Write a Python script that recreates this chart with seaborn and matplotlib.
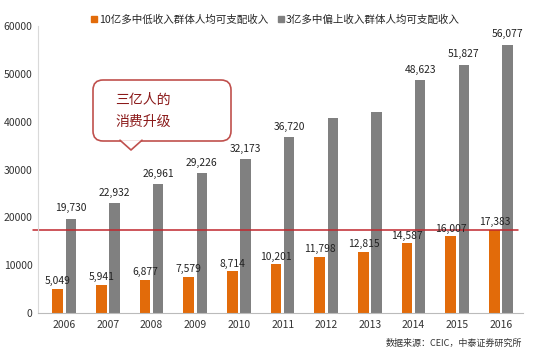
import matplotlib
matplotlib.use("Agg")
import matplotlib.pyplot as plt
import pandas as pd
import seaborn as sns
from matplotlib.patches import FancyBboxPatch, Polygon
from matplotlib.lines import Line2D

# data
years = ["2006", "2007", "2008", "2009", "2010", "2011", "2012", "2013", "2014", "2015", "2016"]
low_income = [5049, 5941, 6877, 7579, 8714, 10201, 11798, 12815, 14587, 16007, 17383]
high_income = [19730, 22932, 26961, 29226, 32173, 36720, 40700, 42000, 48623, 51827, 56077]
# 2012 and 2013 of the gray series carry no label in the original
high_labels = ["19,730", "22,932", "26,961", "29,226", "32,173", "36,720", "", "", "48,623", "51,827", "56,077"]
low_name = "10亿多中低收入群体人均可支配收入"
high_name = "3亿多中偏上收入群体人均可支配收入"
red_line_level = 17400

sns.set_style("white")
plt.rcParams["font.family"] = ["Noto Sans CJK SC", "DejaVu Sans"]

df = pd.DataFrame({
    "year": years * 2,
    "value": low_income + high_income,
    "group": [low_name] * len(years) + [high_name] * len(years),
})

fig = plt.figure(figsize=(5.44, 3.55), dpi=100)
ax = fig.add_axes([0.07, 0.118, 0.891, 0.809])

sns.barplot(data=df, x="year", y="value", hue="group",
            palette=["#E26B0A", "#808080"], width=0.6, gap=0.2,
            saturation=1, linewidth=0, ax=ax, legend=False)

ax.set_ylim(0, 60000)
ax.set_xlim(-0.6, 10.45)
ax.set_yticks(range(0, 60001, 10000))
ax.set_xlabel("")
ax.set_ylabel("")
ax.tick_params(axis="y", length=0, labelsize=7.5, colors="#333333", pad=4)
ax.tick_params(axis="x", length=0, labelsize=7.5, colors="#333333", pad=5)
ax.set_xticks(range(len(years)), years)
ax.set_xticks([i + 0.5 for i in range(-1, len(years))], minor=True)
ax.tick_params(axis="x", which="minor", length=3, color="#BBBBBB", direction="out")

for s in ["top", "right"]:
    ax.spines[s].set_visible(False)
ax.spines["left"].set_color("#D9D9D9")
ax.spines["bottom"].set_color("#BBBBBB")

low_labels = [f"{v:,}" for v in low_income]
ax.bar_label(ax.containers[0], labels=low_labels, padding=2, fontsize=7.4, color="#222222")
ax.bar_label(ax.containers[1], labels=high_labels, padding=4, fontsize=7.4, color="#222222")

# red reference line
ax.axhline(red_line_level, xmin=-0.01, xmax=0.99, color="#C0272D", lw=1.1, clip_on=False)

# callout bubble (pixel coordinates, origin bottom-left)
H = 355
box = FancyBboxPatch((101, H - 133), 122, 45, boxstyle="round,pad=8,rounding_size=10",
                     transform=None, facecolor="white", edgecolor="#C0504D", lw=1.2, zorder=5)
fig.patches.append(box)
tip = [(120, H - 140.2), (131, H - 150), (142, H - 140.2)]
fig.patches.append(Polygon(tip, closed=True, transform=None, facecolor="white",
                           edgecolor="none", zorder=6))
fig.lines.append(Line2D([t[0] for t in tip], [t[1] for t in tip], transform=None,
                        color="#C0504D", lw=1.2, zorder=7))
fig.text(115 / 544, 1 - 100 / 355, "三亿人的", fontsize=10, color="#8B1A1A", va="center", zorder=8)
fig.text(115 / 544, 1 - 122 / 355, "消费升级", fontsize=10, color="#8B1A1A", va="center", zorder=8)

# legend
handles = [Line2D([], [], marker="s", ls="", color="#E26B0A", markersize=5),
           Line2D([], [], marker="s", ls="", color="#808080", markersize=5)]
fig.legend(handles, [low_name, high_name], loc="center", bbox_to_anchor=(0.505, 1 - 20 / 355),
           ncol=2, frameon=False, fontsize=7.6, handletextpad=0.1, columnspacing=0.8,
           handlelength=0.8)

fig.text(522 / 544, 1 - 343 / 355, "数据来源：CEIC，中泰证券研究所", fontsize=6.5,
         color="#333333", ha="right", va="center")

fig.savefig("out.png", dpi=100)
